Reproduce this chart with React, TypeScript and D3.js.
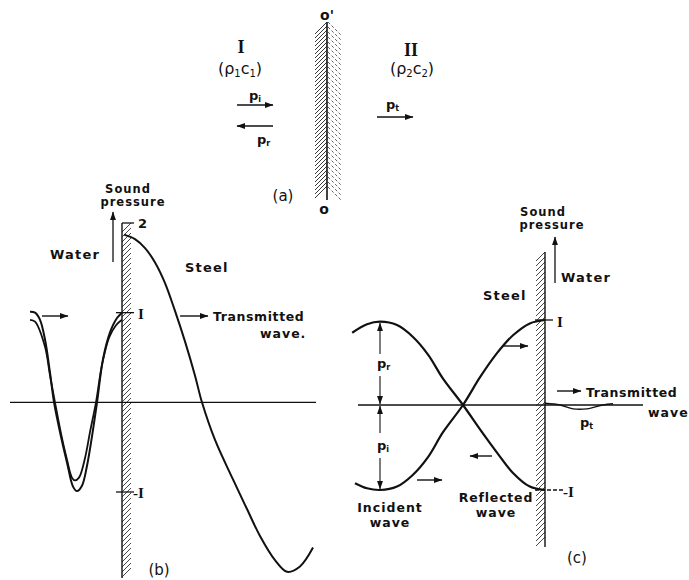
import React from 'react';
import * as d3 from 'd3';

// ---------- Panel (b): water → steel ----------
// x in water wavelengths from the interface (wall at 0), y in units of incident amplitude
const bIncidentX = [-0.958, -0.906, -0.854, -0.802, -0.75, -0.708, -0.646, -0.573, -0.51, -0.469, -0.417, -0.365, -0.3125, -0.26, -0.198, -0.125, -0.052, 0];
const bIncidentY = [1.01, 1.0, 0.92, 0.7, 0.33, 0.0, -0.33, -0.67, -0.94, -0.99, -0.93, -0.71, -0.38, 0.0, 0.48, 0.78, 0.94, 1.0];
const bInnerX = [-0.958, -0.906, -0.802, -0.75, -0.698, -0.635, -0.573, -0.521, -0.49, -0.448, -0.385, -0.333, -0.271, -0.208, -0.135, -0.0625, 0];
const bInnerY = [0.92, 0.9, 0.62, 0.3, 0.0, -0.35, -0.64, -0.84, -0.87, -0.84, -0.62, -0.33, 0.0, 0.42, 0.72, 0.86, 0.92];
const bTransX = [0.021, 0.135, 0.24, 0.344, 0.448, 0.552, 0.656, 0.76, 0.833, 0.969, 1.156, 1.302, 1.4375, 1.594, 1.719, 1.854, 1.99];
const bTransY = [1.87, 1.82, 1.72, 1.56, 1.33, 1.02, 0.68, 0.3, 0.0, -0.42, -0.86, -1.19, -1.49, -1.76, -1.89, -1.83, -1.62];
const bTicks = [2, 1, -1];
const bTickLabels = ['2', 'I', '-I'];

// ---------- Panel (c): steel → water ----------
const cReflX = [-2.41, -2.225, -2.06, -1.85, -1.65, -1.46, -1.275, -1.025, -0.81, -0.6, -0.4, -0.19, 0];
const cReflY = [0.85, 0.95, 0.98, 0.94, 0.8, 0.59, 0.31, 0.0, -0.29, -0.56, -0.8, -0.96, -1.0];
const cIncX = [-2.375, -2.225, -2.06, -1.85, -1.65, -1.46, -1.275, -1.025, -0.81, -0.6, -0.4, -0.19, 0];
const cIncY = [-0.92, -0.98, -1.0, -0.96, -0.82, -0.61, -0.32, 0.0, 0.33, 0.61, 0.82, 0.96, 1.0];
const cTransX = [0, 0.19, 0.35, 0.525, 0.725, 0.85];
const cTransY = [0.02, 0.0, -0.045, -0.045, 0.0, 0.015];
const cTicks = [1, -1];
const cTickLabels = ['I', '-I'];

const W = 689;
const H = 580;
const FONT = '"DejaVu Sans", Arial, sans-serif';
const SERIF = '"Liberation Serif", "DejaVu Serif", serif';

function zip(xs: number[], ys: number[]): [number, number][] {
  return xs.map((x, i) => [x, ys[i]]);
}

function Hatch({ x0, x1, y0, y1, step = 5, dir = 1, dashed = false, color = '#222' }:
  { x0: number; x1: number; y0: number; y1: number; step?: number; dir?: number; dashed?: boolean; color?: string }) {
  const w = x1 - x0;
  const lines = d3.range(y0 + w, y1 + 0.01, step);
  return (
    <g stroke={color} strokeWidth={0.9} strokeDasharray={dashed ? '3 2' : undefined}>
      {lines.map((y, i) =>
        dir > 0 ? (
          <line key={i} x1={x0} y1={y} x2={x1} y2={y - w} />
        ) : (
          <line key={i} x1={x0} y1={y - w} x2={x1} y2={y} />
        )
      )}
    </g>
  );
}

export default function App() {
  // scales for (b)
  const xB = d3.scaleLinear().domain([-1, 2]).range([26, 314]);
  const yB = d3.scaleLinear().domain([-1, 2]).range([492, 223]);
  // scales for (c)
  const xC = d3.scaleLinear().domain([-2.4, 1.2]).range([353, 641]);
  const yC = d3.scaleLinear().domain([-1, 1]).range([490, 320]);

  const lineB = d3.line<[number, number]>().x(d => xB(d[0])).y(d => yB(d[1])).curve(d3.curveCatmullRom.alpha(0.5));
  const lineC = d3.line<[number, number]>().x(d => xC(d[0])).y(d => yC(d[1])).curve(d3.curveCatmullRom.alpha(0.5));

  const wallB = xB(0);
  const wallC = xC(0);

  const txt = { fontFamily: FONT, fontWeight: 700, fill: '#111' } as const;

  return (
    <svg width={W} height={H} viewBox={`0 0 ${W} ${H}`} style={{ position: 'absolute', left: 0, top: 0, background: '#fff' }}>
      <defs>
        <marker id="ah" viewBox="0 0 10 7" refX="9.5" refY="3.5" markerWidth="9" markerHeight="6" markerUnits="userSpaceOnUse" orient="auto-start-reverse">
          <path d="M0,0 L10,3.5 L0,7 z" fill="#111" />
        </marker>
      </defs>

      {/* ================= Panel (a) ================= */}
      <Hatch x0={315} x1={327} y0={22} y1={200} step={4} dir={1} />
      <Hatch x0={328} x1={341} y0={22} y1={200} step={5} dir={-1} dashed color="#555" />
      <line x1={327} y1={22} x2={327} y2={200} stroke="#111" strokeWidth={1.6} />
      <text x={327} y={20} textAnchor="middle" style={txt} fontSize={14}>o'</text>
      <text x={324} y={214} textAnchor="middle" style={txt} fontSize={14}>o</text>

      <text x={241} y={53} textAnchor="middle" fontFamily={SERIF} fontWeight={700} fontSize={18} fill="#111">I</text>
      <text x={240} y={74} textAnchor="middle" fontFamily={FONT} fontSize={16} fill="#111">(ρ<tspan fontSize={10} dy={3}>1</tspan><tspan dy={-3}>c</tspan><tspan fontSize={10} dy={3}>1</tspan><tspan dy={-3}>)</tspan></text>
      <text x={411} y={56} textAnchor="middle" fontFamily={SERIF} fontWeight={700} fontSize={18} fill="#111">II</text>
      <text x={412} y={74} textAnchor="middle" fontFamily={FONT} fontSize={16} fill="#111">(ρ<tspan fontSize={10} dy={3}>2</tspan><tspan dy={-3}>c</tspan><tspan fontSize={10} dy={3}>2</tspan><tspan dy={-3}>)</tspan></text>

      <text x={249} y={100} style={txt} fontSize={13}>p<tspan fontSize={8} dy={2}>i</tspan></text>
      <line x1={237} y1={105} x2={273} y2={105} stroke="#111" strokeWidth={1.4} markerEnd="url(#ah)" />
      <line x1={273} y1={126} x2={237} y2={126} stroke="#111" strokeWidth={1.4} markerEnd="url(#ah)" />
      <text x={257} y={144} style={txt} fontSize={13}>p<tspan fontSize={8} dy={2}>r</tspan></text>
      <text x={386} y={109} style={txt} fontSize={13}>p<tspan fontSize={8} dy={2}>t</tspan></text>
      <line x1={377} y1={117} x2={413} y2={117} stroke="#111" strokeWidth={1.4} markerEnd="url(#ah)" />
      <text x={283} y={201} textAnchor="middle" style={{ ...txt, fontWeight: 400 }} fontSize={15}>(a)</text>

      {/* ================= Panel (b) ================= */}
      <Hatch x0={wallB} x1={wallB + 9} y0={yB(2)} y1={578} step={5} dir={1} color="#333" />
      <line x1={wallB} y1={yB(2)} x2={wallB} y2={578} stroke="#111" strokeWidth={1.4} />
      {/* zero axis */}
      <line x1={10} y1={yB(0)} x2={316} y2={yB(0)} stroke="#111" strokeWidth={1.3} />
      {/* ticks */}
      {bTicks.map((t, i) => (
        <g key={i}>
          <line x1={wallB - (t === 2 ? 0 : 6)} x2={wallB + 12} y1={yB(t)} y2={yB(t)} stroke="#111" strokeWidth={1.3} />
          <text x={wallB + (t < 0 ? 11 : 16)} y={yB(t) + (t === 2 ? 5 : 6)} fontFamily={t === 2 ? FONT : SERIF} fontWeight={700} fontSize={t === 2 ? 13 : 15} fill="#111">{bTickLabels[i]}</text>
        </g>
      ))}
      {/* sound pressure arrow + labels */}
      <line x1={113} y1={262} x2={113} y2={212} stroke="#111" strokeWidth={1.3} markerEnd="url(#ah)" />
      <text x={128} y={193} textAnchor="middle" style={txt} fontSize={11.5} letterSpacing={1}>Sound</text>
      <text x={133} y={206} textAnchor="middle" style={txt} fontSize={11.5} letterSpacing={1}>pressure</text>
      <text x={50} y={259} style={txt} fontSize={13} letterSpacing={1.2}>Water</text>
      <text x={185} y={272} style={txt} fontSize={13} letterSpacing={1.2}>Steel</text>
      <line x1={180} y1={316} x2={208} y2={316} stroke="#111" strokeWidth={1.4} markerEnd="url(#ah)" />
      <text x={213} y={321} style={txt} fontSize={12.5} letterSpacing={0.6}>Transmitted</text>
      <text x={260} y={338} style={txt} fontSize={12.5} letterSpacing={1}>wave.</text>
      <line x1={42} y1={316} x2={68} y2={316} stroke="#111" strokeWidth={1.4} markerEnd="url(#ah)" />

      {/* curves */}
      <path d={lineB(zip(bIncidentX, bIncidentY)) || ''} fill="none" stroke="#111" strokeWidth={2} />
      <path d={lineB(zip(bInnerX, bInnerY)) || ''} fill="none" stroke="#111" strokeWidth={1.8} />
      <path d={lineB(zip(bTransX, bTransY)) || ''} fill="none" stroke="#111" strokeWidth={2} />
      <text x={159} y={575} textAnchor="middle" style={{ ...txt, fontWeight: 400 }} fontSize={15}>(b)</text>

      {/* ================= Panel (c) ================= */}
      <Hatch x0={wallC - 9} x1={wallC} y0={252} y1={547} step={5} dir={1} color="#333" />
      <line x1={wallC} y1={252} x2={wallC} y2={547} stroke="#111" strokeWidth={1.4} />
      <line x1={358} y1={yC(0)} x2={643} y2={yC(0)} stroke="#111" strokeWidth={1.3} />
      {cTicks.map((t, i) => (
        <g key={i}>
          <line x1={wallC - 10} x2={wallC + (t > 0 ? 8 : 18)} y1={yC(t)} y2={yC(t)} stroke="#111" strokeWidth={1.3} strokeDasharray={t < 0 ? '4 2' : undefined} />
          <text x={wallC + (t > 0 ? 12 : 18)} y={yC(t) + 7} fontFamily={SERIF} fontWeight={700} fontSize={15} fill="#111">{cTickLabels[i]}</text>
        </g>
      ))}
      <line x1={555} y1={283} x2={555} y2={237} stroke="#111" strokeWidth={1.3} markerEnd="url(#ah)" />
      <text x={543} y={216} textAnchor="middle" style={txt} fontSize={11.5} letterSpacing={1}>Sound</text>
      <text x={552} y={229} textAnchor="middle" style={txt} fontSize={11.5} letterSpacing={1}>pressure</text>
      <text x={561} y={282} style={txt} fontSize={13} letterSpacing={1.2}>Water</text>
      <text x={483} y={300} style={txt} fontSize={13} letterSpacing={1.2}>Steel</text>

      <line x1={557} y1={391} x2={581} y2={391} stroke="#111" strokeWidth={1.4} markerEnd="url(#ah)" />
      <text x={586} y={397} style={txt} fontSize={12.5} letterSpacing={0.6}>Transmitted</text>
      <text x={648} y={417} style={txt} fontSize={12.5} letterSpacing={1}>wave</text>
      <text x={580} y={427} style={txt} fontSize={13}>p<tspan fontSize={8} dy={2}>t</tspan></text>

      {/* amplitude arrows */}
      <line x1={380} y1={354} x2={380} y2={323} stroke="#111" strokeWidth={1.1} markerEnd="url(#ah)" />
      <line x1={380} y1={376} x2={380} y2={404} stroke="#111" strokeWidth={1.1} markerEnd="url(#ah)" />
      <text x={377} y={368} style={txt} fontSize={13}>p<tspan fontSize={8} dy={2}>r</tspan></text>
      <line x1={380} y1={433} x2={380} y2={406} stroke="#111" strokeWidth={1.1} markerEnd="url(#ah)" />
      <line x1={380} y1={458} x2={380} y2={489} stroke="#111" strokeWidth={1.1} markerEnd="url(#ah)" />
      <text x={377} y={450} style={txt} fontSize={13}>p<tspan fontSize={8} dy={2}>i</tspan></text>

      {/* direction arrows */}
      <line x1={503} y1={346} x2={528} y2={346} stroke="#111" strokeWidth={1.4} markerEnd="url(#ah)" />
      <line x1={492} y1={456} x2={470} y2={456} stroke="#111" strokeWidth={1.4} markerEnd="url(#ah)" />
      <line x1={417} y1={480} x2={442} y2={480} stroke="#111" strokeWidth={1.4} markerEnd="url(#ah)" />

      <path d={lineC(zip(cReflX, cReflY)) || ''} fill="none" stroke="#111" strokeWidth={2.2} />
      <path d={lineC(zip(cIncX, cIncY)) || ''} fill="none" stroke="#111" strokeWidth={2.2} />
      <path d={lineC(zip(cTransX, cTransY)) || ''} fill="none" stroke="#111" strokeWidth={1.4} />

      <text x={390} y={512} textAnchor="middle" style={txt} fontSize={12.5} letterSpacing={1}>Incident</text>
      <text x={390} y={527} textAnchor="middle" style={txt} fontSize={12.5} letterSpacing={1}>wave</text>
      <text x={496} y={502} textAnchor="middle" style={txt} fontSize={12.5} letterSpacing={0.8}>Reflected</text>
      <text x={496} y={517} textAnchor="middle" style={txt} fontSize={12.5} letterSpacing={1}>wave</text>
      <text x={577} y={563} textAnchor="middle" style={{ ...txt, fontWeight: 400 }} fontSize={15}>(c)</text>
    </svg>
  );
}
